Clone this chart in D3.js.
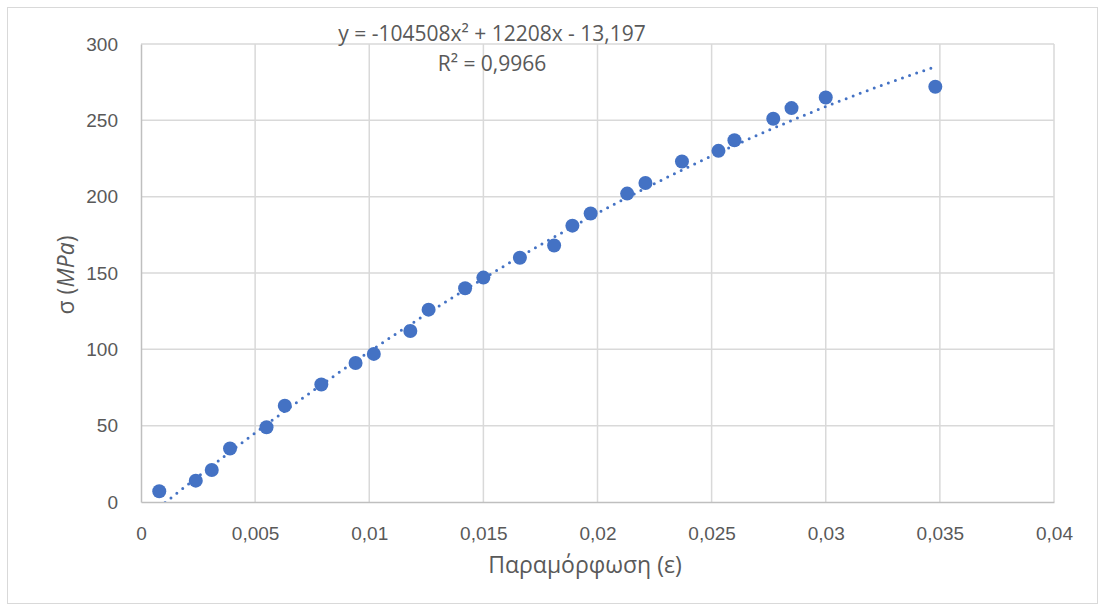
<!DOCTYPE html>
<html>
<head>
<meta charset="utf-8">
<script src="https://cdn.jsdelivr.net/npm/d3@7"></script>
<style>
  body { margin: 0; background: #fff; }
  svg { font-family: "Open Sans", "Noto Sans", sans-serif; }
</style>
</head>
<body>
<svg id="chart" width="1105" height="606"></svg>
<script>
// strain (ε) and stress σ (MPa)
var strain = [0.0008, 0.0024, 0.0031, 0.0039, 0.0055, 0.0063, 0.0079, 0.0094, 0.0102, 0.0118,
              0.0126, 0.0142, 0.0150, 0.0166, 0.0181, 0.0189, 0.0197, 0.0213, 0.0221, 0.0237,
              0.0253, 0.0260, 0.0277, 0.0285, 0.0300, 0.0348];
var stress = [7, 14, 21, 35, 49, 63, 77, 91, 97, 112,
              126, 140, 147, 160, 168, 181, 189, 202, 209, 223,
              230, 237, 251, 258, 265, 272];
var xTicks = [0, 0.005, 0.01, 0.015, 0.02, 0.025, 0.03, 0.035, 0.04];
var yTicks = [0, 50, 100, 150, 200, 250, 300];
// polynomial trendline (order 2) from the label
var trendCoef = [-104508, 12208, -13.197];
var trendText1 = 'y = -104508x² + 12208x - 13,197';
var trendText2 = 'R² = 0,9966';

var svg = d3.select('#chart');
var margin = {top: 44, right: 51, bottom: 104, left: 141};
var width = 1105 - margin.left - margin.right;
var height = 606 - margin.top - margin.bottom;

// chart area border
svg.append('rect')
	.attr('x', 7.5).attr('y', 7.5)
	.attr('width', 1090).attr('height', 596)
	.attr('fill', 'none').attr('stroke', '#d9d9d9');

var x = d3.scaleLinear().domain([0, 0.04]).range([margin.left, margin.left + width]);
var y = d3.scaleLinear().domain([0, 300]).range([margin.top + height, margin.top]);

var fmt = function(d) { return String(d).replace('.', ','); };

// gridlines
svg.append('g')
	.selectAll('line').data(xTicks.slice(1)).enter().append('line')
	.attr('x1', d => x(d)).attr('x2', d => x(d))
	.attr('y1', y(300)).attr('y2', y(0))
	.attr('stroke', '#d9d9d9').attr('stroke-width', 1.5);
svg.append('g')
	.selectAll('line').data(yTicks.slice(1)).enter().append('line')
	.attr('x1', x(0)).attr('x2', x(0.04))
	.attr('y1', d => y(d)).attr('y2', d => y(d))
	.attr('stroke', '#d9d9d9').attr('stroke-width', 1.5);

// axes
var xAxis = g => g
	.attr('transform', `translate(0, ${y(0)})`)
	.call(d3.axisBottom(x).tickValues(xTicks).tickFormat(fmt).tickSize(0).tickPadding(25))
	.call(g => g.select('.domain').attr('stroke', '#bfbfbf').attr('stroke-width', 1.5))
	.call(g => g.selectAll('text').attr('fill', '#595959').style('font-size', '19px'));
var yAxis = g => g
	.attr('transform', `translate(${x(0)}, 0)`)
	.call(d3.axisLeft(y).tickValues(yTicks).tickSize(0).tickPadding(23))
	.call(g => g.select('.domain').attr('stroke', '#bfbfbf').attr('stroke-width', 1.5))
	.call(g => g.selectAll('text').attr('fill', '#595959').style('font-size', '19px'));
svg.append('g').call(xAxis);
svg.append('g').call(yAxis);

// axis titles
svg.append('text')
	.attr('x', 585).attr('y', 573)
	.attr('text-anchor', 'middle')
	.attr('fill', '#595959').style('font-size', '23px')
	.text('Παραμόρφωση (ε)');
var yTitle = svg.append('text')
	.attr('transform', 'translate(74, 275) rotate(-90)')
	.attr('text-anchor', 'middle')
	.attr('fill', '#595959').style('font-size', '23px');
yTitle.append('tspan').text('σ (');
yTitle.append('tspan').style('font-style', 'italic').text('MPa');
yTitle.append('tspan').text(')');

// trendline, clipped to the plot area
svg.append('clipPath').attr('id', 'plotClip')
	.append('rect')
	.attr('x', x(0)).attr('y', y(300))
	.attr('width', width).attr('height', height);
var xMin = d3.min(strain), xMax = d3.max(strain);
var trendPts = d3.range(0, 101).map(i => {
	var xv = xMin + (xMax - xMin) * i / 100;
	return [xv, trendCoef[0] * xv * xv + trendCoef[1] * xv + trendCoef[2]];
});
svg.append('path')
	.datum(trendPts)
	.attr('clip-path', 'url(#plotClip)')
	.attr('d', d3.line().x(d => x(d[0])).y(d => y(d[1])))
	.attr('fill', 'none')
	.attr('stroke', '#4472c4')
	.attr('stroke-width', 3)
	.attr('stroke-linecap', 'round')
	.attr('stroke-dasharray', '0 7.5');

// points
svg.append('g')
	.selectAll('circle').data(strain).enter().append('circle')
	.attr('cx', d => x(d))
	.attr('cy', (d, i) => y(stress[i]))
	.attr('r', 7)
	.attr('fill', '#4472c4');

// trendline label
svg.append('text')
	.attr('x', 492).attr('y', 41)
	.attr('text-anchor', 'middle')
	.attr('fill', '#595959').style('font-size', '21px')
	.text(trendText1);
svg.append('text')
	.attr('x', 492).attr('y', 71)
	.attr('text-anchor', 'middle')
	.attr('fill', '#595959').style('font-size', '21px')
	.text(trendText2);
</script>
</body>
</html>
